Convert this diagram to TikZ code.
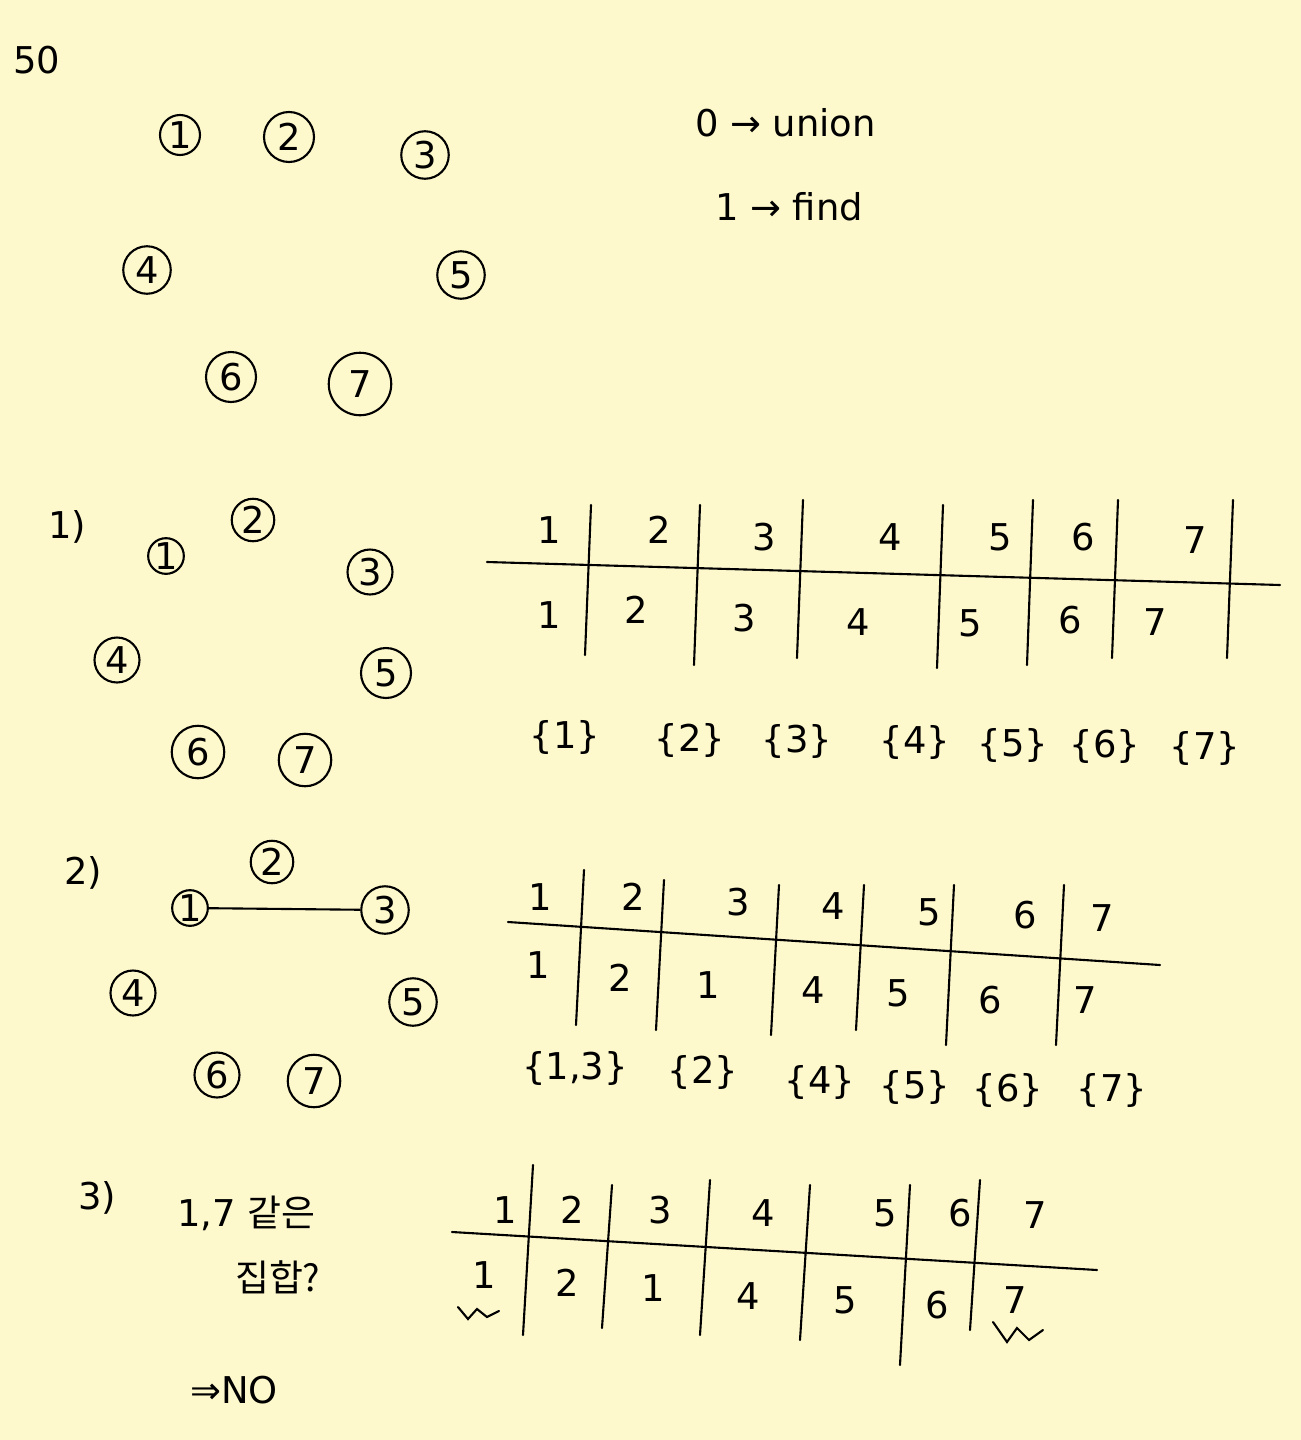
\documentclass[tikz,border=0pt]{standalone}
\usepackage{fontspec}
\setmainfont{DejaVu Sans}
\newfontfamily\kr{Noto Sans CJK KR}
\usetikzlibrary{calc}
\usetikzlibrary{arrows.meta}
\definecolor{paper}{RGB}{254,249,204}
\tikzset{>=latex}
\tikzstyle{vtx} = [circle, draw=black, line width=1.2pt, inner sep=0pt, minimum size=0.9cm, font=\fontsize{21}{24}\selectfont]
\tikzstyle{hand} = [draw=none, inner sep=1pt, font=\fontsize{21}{25}\selectfont]
\tikzstyle{grid} = [-, line width=1.2pt, draw=black, line cap=round]

\begin{document}
\begin{tikzpicture}[x=0.02cm, y=-0.02cm]
\fill [paper] (0, 0) rectangle (1301, 1440);
\useasboundingbox (0, 0) rectangle (1301, 1440);

\node [hand] (page) at (37, 60) {50};

% starting graph
\node [vtx, minimum size=0.8cm] (a1) at (180, 135) {1};
\node [vtx, minimum size=1.0cm] (a2) at (289, 137) {2};
\node [vtx, minimum size=0.95cm] (a3) at (425, 155) {3};
\node [vtx, minimum size=0.95cm] (a4) at (147, 270) {4};
\node [vtx, minimum size=0.95cm] (a5) at (461, 275) {5};
\node [vtx, minimum size=1.0cm] (a6) at (231, 377) {6};
\node [vtx, minimum size=1.25cm] (a7) at (360, 384) {7};
\node [hand, anchor=west] (op0) at (693, 123) {0 → union};
\node [hand, anchor=west] (op1) at (713, 207) {1 → find};

% step 1
\node [hand] (s1) at (67, 527) {1)};
\node [vtx, minimum size=0.65cm] (b1) at (166, 556) {1};
\node [vtx, minimum size=0.85cm] (b2) at (253, 520) {2};
\node [vtx, minimum size=0.9cm] (b3) at (370, 572) {3};
\node [vtx, minimum size=0.9cm] (b4) at (117, 660) {4};
\node [vtx, minimum size=1.0cm] (b5) at (386, 673) {5};
\node [vtx, minimum size=1.05cm] (b6) at (198, 752) {6};
\node [vtx, minimum size=1.05cm] (b7) at (305, 760) {7};

\draw [grid] (487, 562) -- (1280, 585);
\foreach \x/\t/\b in {588/505/655, 697/505/665, 800/500/658, 940/505/668, 1030/500/665, 1115/500/658, 1230/500/658}
  \draw [grid] (\x+3, \t) -- (\x-3, \b);
\foreach \v/\x/\y in {1/549/530, 2/659/530, 3/764/537, 4/890/537, 5/1000/537, 6/1083/537, 7/1195/540}
  \node [hand] (ta\v) at (\x, \y) {\v};
\foreach \v/\x/\y in {1/549/615, 2/636/610, 3/744/618, 4/858/622, 5/970/623, 6/1070/620, 7/1155/622}
  \node [hand] (pa\v) at (\x, \y) {\v};
\foreach \v/\x/\y in {1/565/737, 2/690/740, 3/797/741, 4/915/742, 5/1013/745, 6/1105/746, 7/1205/748}
  \node [hand] (sa\v) at (\x, \y) {\{\v\}};

% step 2
\node [hand] (s2) at (83, 873) {2)};
\node [vtx, minimum size=0.7cm] (c1) at (190, 908) {1};
\node [vtx, minimum size=0.85cm] (c2) at (272, 862) {2};
\node [vtx, minimum size=0.95cm] (c3) at (385, 910) {3};
\node [vtx, minimum size=0.9cm] (c4) at (133, 993) {4};
\node [vtx, minimum size=0.95cm] (c5) at (413, 1002) {5};
\node [vtx, minimum size=0.9cm] (c6) at (217, 1075) {6};
\node [vtx, minimum size=1.05cm] (c7) at (314, 1081) {7};
\draw [-, line width=1.2pt, draw=black] (c1) to (c3);

\draw [grid] (508, 922) -- (1160, 965);
\foreach \x/\t/\b in {580/870/1025, 660/880/1030, 775/885/1035, 860/885/1030, 950/885/1045, 1060/885/1045}
  \draw [grid] (\x+4, \t) -- (\x-4, \b);
\foreach \v/\x/\y in {1/540/897, 2/633/897, 3/738/902, 4/833/906, 5/929/912, 6/1025/915, 7/1102/918}
  \node [hand] (tb\v) at (\x, \y) {\v};
\foreach \n/\v/\x/\y in {1/1/538/965, 2/2/620/978, 3/1/708/985, 4/4/813/990, 5/5/898/993, 6/6/990/1000, 7/7/1085/1000}
  \node [hand] (pb\n) at (\x, \y) {\v};
\node [hand] (sb1) at (575, 1068) {\{1,3\}};
\foreach \v/\x/\y in {2/703/1072, 4/820/1082, 5/915/1087, 6/1008/1090, 7/1112/1090}
  \node [hand] (sb\v) at (\x, \y) {\{\v\}};

% step 3
\node [hand] (s3) at (97, 1198) {3)};
\node [hand, anchor=west] (q1) at (175, 1213) {1,7 {\kr 같은}};
\node [hand, anchor=west] (q2) at (233, 1277) {\kr 집합?};
\node [hand, anchor=west] (ans) at (188, 1390) {⇒NO};

\draw [grid] (452, 1232) -- (1097, 1270);
\foreach \x/\t/\b in {528/1165/1335, 607/1185/1328, 705/1180/1335, 805/1185/1340, 905/1185/1365, 975/1180/1330}
  \draw [grid] (\x+5, \t) -- (\x-5, \b);
\foreach \v/\x/\y in {1/505/1210, 2/572/1210, 3/660/1210, 4/763/1213, 5/885/1213, 6/960/1213, 7/1035/1215}
  \node [hand] (tc\v) at (\x, \y) {\v};
\foreach \n/\v/\x/\y in {1/1/484/1275, 2/2/567/1283, 3/1/653/1288, 4/4/748/1296, 5/5/845/1300, 6/6/937/1305, 7/7/1015/1300}
  \node [hand] (pc\n) at (\x, \y) {\v};
% marks under the roots
\draw [grid] ($(pc1)+(-26,32)$) -- ++(10,12) -- ++(9,-10) -- ++(10,8) -- ++(12,-6);
\draw [grid] ($(pc7)+(-22,22)$) -- ++(14,20) -- ++(10,-14) -- ++(12,12) -- ++(14,-10);
\end{tikzpicture}
\end{document}
